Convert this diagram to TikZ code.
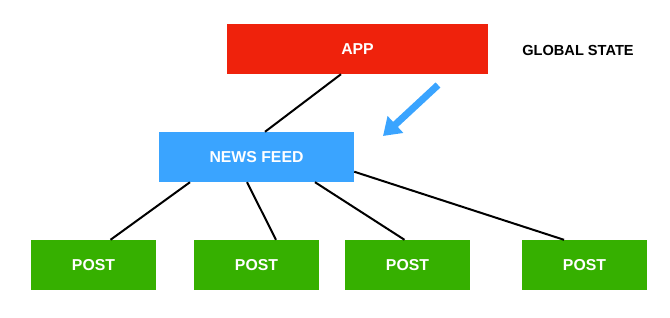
\documentclass[tikz,border=0pt]{standalone}
\usepackage{fontspec}
\setmainfont{Liberation Sans}
\usepackage{xcolor}
\usetikzlibrary{calc,arrows.meta}
\definecolor{appred}{HTML}{EF220C}
\definecolor{feedblue}{HTML}{3AA4FF}
\definecolor{postgreen}{HTML}{36B000}

\begin{document}
\begin{tikzpicture}[x=1pt,y=-1pt,
  box/.style={minimum height=50pt,inner sep=0pt,text=white,
    font=\fontsize{15.8}{18}\selectfont\bfseries},
  postbox/.style={box,fill=postgreen,minimum width=125pt},
  link/.style={line width=2pt}]
  \useasboundingbox (0,0) rectangle (670,318);
  % top level
  \node[box,fill=appred,minimum width=261pt] (app) at (357.5,49) {APP};
  \node[font=\fontsize{14.6}{16}\selectfont\bfseries] (global) at (578,50) {GLOBAL STATE};
  % feed and posts
  \node[box,fill=feedblue,minimum width=195pt] (feed) at (256.5,157) {NEWS FEED};
  \node[postbox] (post1) at (93.5,265) {POST};
  \node[postbox] (post2) at (256.5,265) {POST};
  \node[postbox] (post3) at (407.5,265) {POST};
  \node[postbox] (post4) at (584.5,265) {POST};
  % connectors
  \draw[link] ($(app.south)+(-16.5,0)$) -- ($(feed.north)+(8.5,0)$);
  \draw[link] ($(feed.south)+(-66.5,0)$) -- ($(post1.north)+(17,0)$);
  \draw[link] ($(feed.south)+(-9.5,0)$) -- ($(post2.north)+(19.5,0)$);
  \draw[link] ($(feed.south)+(58.5,0)$) -- ($(post3.north)+(-3,0)$);
  \draw[link] ($(feed.east)+(0,14.7)$) -- ($(post4.north)+(-20.5,0)$);
  % global state pointer
  \coordinate (pointtail) at (438,85);
  \coordinate (pointtip) at (383,136);
  \draw[feedblue,line width=7pt,-{Triangle[length=17pt,width=22pt]}] (pointtail) -- (pointtip);
\end{tikzpicture}
\end{document}
